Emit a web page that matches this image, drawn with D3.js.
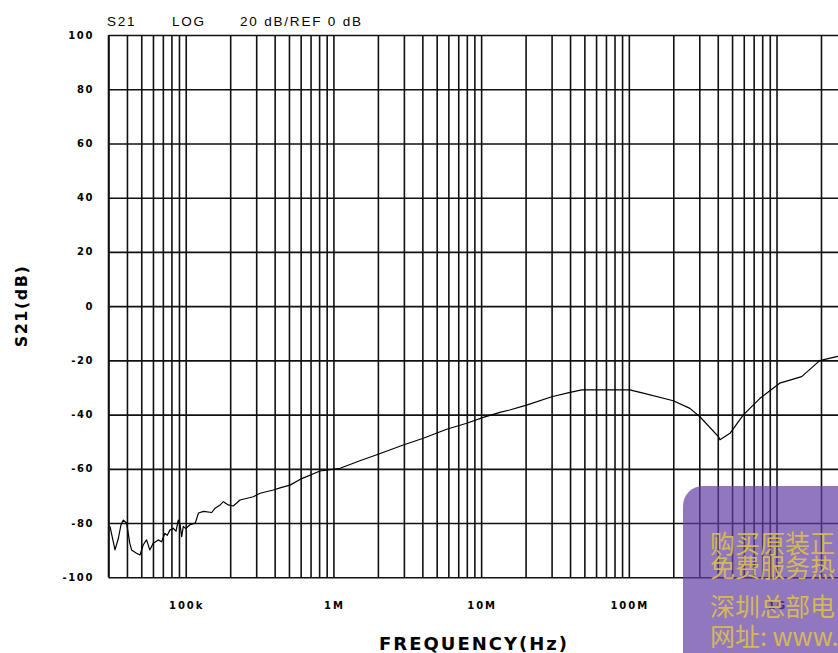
<!DOCTYPE html>
<html>
<head>
<meta charset="utf-8">
<script src="https://cdn.jsdelivr.net/npm/d3@7"></script>
<style>
  html, body { margin: 0; padding: 0; background: #fff; overflow: hidden; }
  svg { display: block; }
</style>
</head>
<body>
<div id="chart"></div>
<script>
// S21 trace (Hz, dB)
const freqHz = [
  30.7e3, 33.2e3, 35.0e3, 36.5e3, 37.8e3, 39.8e3, 41.8e3, 43.0e3, 46.4e3, 49.0e3,
  51.5e3, 54.3e3, 57.1e3, 60.3e3, 65.1e3, 68.7e3, 72.2e3, 75.0e3, 78.1e3, 82.3e3,
  86.0e3, 89.0e3, 91.5e3, 93.9e3, 96.3e3, 100e3, 107e3, 116e3, 122e3, 132e3,
  150e3, 158e3, 171e3, 180e3, 194e3, 210e3, 233e3, 287e3, 319e3, 392e3,
  435e3, 508e3, 594e3, 811e3, 1.11e6, 1.51e6, 2.01e6, 2.97e6, 4.06e6, 5.84e6,
  7.99e6, 10.35e6, 13.4e6, 15.6e6, 20.3e6, 30.1e6, 40e6, 48e6, 101.5e6, 125e6,
  200e6, 259e6, 303e6, 404e6, 414e6, 484e6, 596e6, 773e6, 1.05e9, 1.48e9,
  1.96e9, 2.55e9, 3.0e9
];
const s21Db = [
  -81.2, -89.9, -85.6, -80.5, -78.9, -80.0, -87.4, -89.9, -91.1, -91.8,
  -88.1, -86.2, -89.9, -87.4, -86.2, -86.9, -83.8, -84.5, -82.6, -81.9,
  -83.0, -78.9, -80.5, -85.0, -81.2, -82.0, -80.6, -80.0, -76.3, -75.7,
  -76.1, -74.5, -73.3, -72.1, -73.3, -73.7, -71.5, -70.3, -69.0, -67.8,
  -67.0, -66.0, -63.9, -60.8, -59.8, -57.0, -54.6, -51.2, -48.7, -45.4,
  -43.2, -41.0, -39.2, -38.3, -36.5, -33.4, -31.8, -30.9, -30.9, -32.1,
  -34.9, -37.7, -40.8, -48.1, -49.3, -46.9, -40.1, -34.0, -28.4, -26.0,
  -20.1, -18.6, -18.3
];

const xTickValues = [1e5, 1e6, 1e7, 1e8, 1e9];
const xTickLabels = ["100k", "1M", "10M", "100M", "1G"];
const yTickValues = [100, 80, 60, 40, 20, 0, -20, -40, -60, -80, -100];
const headerTexts = ["S21", "LOG", "20 dB/REF 0 dB"];
const watermarkLines = ["购买原装正", "免费服务热", "深圳总部电", "网址: www."];

const WIDTH = 838;
const HEIGHT = 653;
const PLOT = { left: 108.5, top: 35, bottom: 577.3, right: 847 };
const GRID_STROKE = "#111";
const TICK_FONT = "'DejaVu Sans', sans-serif";

const svg = d3.select("#chart")
  .append("svg")
  .attr("width", WIDTH)
  .attr("height", HEIGHT);

const x = d3.scaleLog()
  .domain([30e3, 3e9])
  .range([PLOT.left, PLOT.right]);

const y = d3.scaleLinear()
  .domain([-100, 100])
  .range([PLOT.bottom, PLOT.top]);

// vertical grid: every 1..9 multiple per decade
svg.append("g")
  .attr("transform", `translate(0,${PLOT.bottom})`)
  .call(
    d3.axisBottom(x)
      .ticks(10)
      .tickSize(-(PLOT.bottom - PLOT.top))
      .tickFormat("")
  )
  .call(g => g.select(".domain").remove())
  .call(g => g.selectAll(".tick line")
    .attr("stroke", GRID_STROKE)
    .attr("stroke-width", 1.6));

// horizontal grid
svg.append("g")
  .attr("transform", `translate(${PLOT.left},0)`)
  .call(
    d3.axisLeft(y)
      .tickValues(yTickValues)
      .tickSize(-(PLOT.right - PLOT.left))
      .tickFormat("")
  )
  .call(g => g.select(".domain").remove())
  .call(g => g.selectAll(".tick line")
    .attr("stroke", GRID_STROKE)
    .attr("stroke-width", 1.6));

// left border
svg.append("line")
  .attr("x1", PLOT.left)
  .attr("x2", PLOT.left)
  .attr("y1", PLOT.top)
  .attr("y2", PLOT.bottom)
  .attr("stroke", GRID_STROKE)
  .attr("stroke-width", 1.6);

// y tick labels
svg.append("g")
  .selectAll("text")
  .data(yTickValues)
  .join("text")
  .attr("x", 94)
  .attr("y", d => y(d) + 3.5)
  .attr("text-anchor", "end")
  .attr("font-family", TICK_FONT)
  .attr("font-weight", "bold")
  .attr("font-size", 10)
  .attr("letter-spacing", 1.6)
  .text(d => d);

// x tick labels
svg.append("g")
  .selectAll("text")
  .data(xTickValues)
  .join("text")
  .attr("x", d => x(d) + 1)
  .attr("y", 609)
  .attr("text-anchor", "middle")
  .attr("font-family", TICK_FONT)
  .attr("font-weight", "bold")
  .attr("font-size", 10)
  .attr("letter-spacing", 2)
  .text((d, i) => xTickLabels[i]);

// header
const headerX = [107, 172, 240];
svg.append("g")
  .selectAll("text")
  .data(headerTexts)
  .join("text")
  .attr("x", (d, i) => headerX[i])
  .attr("y", 26)
  .attr("font-family", "'Liberation Sans', Arial, sans-serif")
  .attr("font-size", 13.5)
  .attr("letter-spacing", 1.8)
  .text(d => d);

// axis titles
svg.append("text")
  .attr("x", 474)
  .attr("y", 650)
  .attr("text-anchor", "middle")
  .attr("font-family", TICK_FONT)
  .attr("font-weight", "bold")
  .attr("font-size", 18)
  .attr("letter-spacing", 2)
  .text("FREQUENCY(Hz)");

svg.append("text")
  .attr("transform", "translate(27,306) rotate(-90)")
  .attr("text-anchor", "middle")
  .attr("font-family", TICK_FONT)
  .attr("font-weight", "bold")
  .attr("font-size", 16)
  .attr("letter-spacing", 1.5)
  .text("S21(dB)");

// trace
const line = d3.line()
  .x(d => x(d[0]))
  .y(d => y(d[1]));

svg.append("path")
  .datum(d3.zip(freqHz, s21Db))
  .attr("fill", "none")
  .attr("stroke", "#000")
  .attr("stroke-width", 1.2)
  .attr("stroke-linejoin", "round")
  .attr("d", line);

// overlay badge in the lower right corner (covers the 1G label as in the source)
const badge = svg.append("g");
badge.append("rect")
  .attr("x", 683)
  .attr("y", 486)
  .attr("width", 220)
  .attr("height", 220)
  .attr("rx", 20)
  .attr("fill", "rgb(98,62,162)")
  .attr("opacity", 0.7);

const badgeY = [553, 577, 616, 646];
badge.selectAll("text")
  .data(watermarkLines)
  .join("text")
  .attr("x", 710)
  .attr("y", (d, i) => badgeY[i])
  .attr("font-family", "'Noto Sans CJK SC', sans-serif")
  .attr("font-size", 25)
  .attr("fill", "#dcc04a")
  .attr("opacity", 0.9)
  .text(d => d);
</script>
</body>
</html>
